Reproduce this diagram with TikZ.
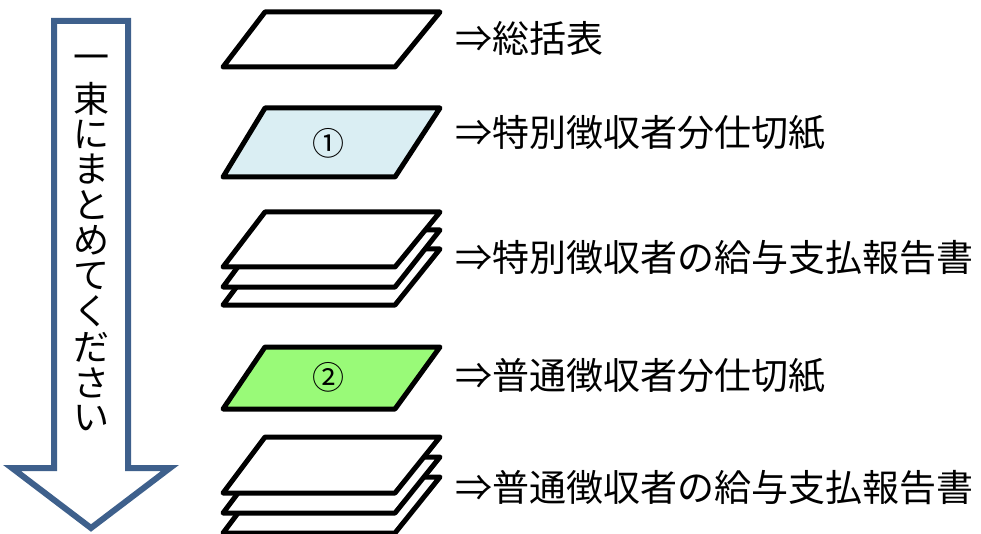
\documentclass[tikz,border=0pt]{standalone}
\usepackage{fontspec}
\newfontfamily\jp{Noto Sans CJK JP}
\definecolor{arrowblue}{RGB}{62,96,140}
\definecolor{sheetblue}{RGB}{218,238,243}
\definecolor{sheetgreen}{RGB}{153,250,120}
\tikzset{
  sheet/.style={draw=black, line width=5pt, line join=round, fill=white},
  lbl/.style={anchor=west, inner sep=0pt, font=\jp\fontsize{37}{37}\selectfont},
  vchar/.style={inner sep=0pt, font=\jp\fontsize{36}{36}\selectfont},
  num/.style={inner sep=0pt, font=\jp\fontsize{32}{32}\selectfont}
}
% #1 top y, #2 height, #3 fill
\newcommand{\mysheet}[3]{%
  \draw[sheet, fill=#3] (265,#1) -- (440,#1) -- (395,#1+#2) -- (223,#1+#2) -- cycle;}
\begin{document}
\begin{tikzpicture}[x=1pt,y=-1pt]
\useasboundingbox (0,0) rectangle (981,534);
% down arrow
\draw[draw=arrowblue, line width=6pt, fill=white, line join=miter]
  (54,21) -- (128,21) -- (128,468) -- (170,468) -- (91,528) -- (12,468) -- (54,468) -- cycle;
\foreach \c [count=\i] in {一,束,に,ま,と,め,て,く,だ,さ,い}
  \node[vchar] (v\i) at (91,{63+35.5*(\i-1)}) {\c};
% sheet 1
\mysheet{12}{55}{white}
% sheet 2 (blue)
\mysheet{108}{69}{sheetblue}
\node[num] (n1) at (328,143) {①};
% stack 3
\mysheet{249}{56}{white}
\mysheet{230}{57}{white}
\mysheet{212}{55}{white}
% sheet 4 (green)
\mysheet{347}{62}{sheetgreen}
\node[num] (n2) at (328,377) {②};
% stack 5
\mysheet{477}{56}{white}
\mysheet{457}{56}{white}
\mysheet{437}{56}{white}
% labels
\node[lbl] (l1) at (455,38) {⇒総括表};
\node[lbl] (l2) at (455,133) {⇒特別徴収者分仕切紙};
\node[lbl] (l3) at (455,258) {⇒特別徴収者の給与支払報告書};
\node[lbl] (l4) at (455,376) {⇒普通徴収者分仕切紙};
\node[lbl] (l5) at (455,488) {⇒普通徴収者の給与支払報告書};
\end{tikzpicture}
\end{document}
